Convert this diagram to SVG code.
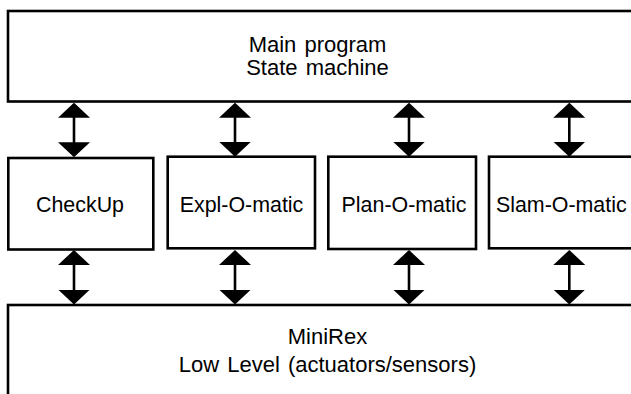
<svg xmlns="http://www.w3.org/2000/svg" width="631" height="394" viewBox="0 0 631 394">
  <style>
    .box { fill: #ffffff; stroke: #000000; stroke-width: 2.6; }
    .lbl { font-family: "Liberation Sans", Arial, Helvetica, sans-serif; fill: #000000; text-anchor: middle; }
    .big { font-size: 22px; word-spacing: 2px; }
    .node { font-size: 21.4px; }
    .conn { stroke: #000000; stroke-width: 2.6; fill: none; marker-start: url(#head); marker-end: url(#head); }
  </style>
  <defs>
    <marker id="head" markerUnits="userSpaceOnUse" viewBox="0 0 15 32" markerWidth="15" markerHeight="32" refX="13.5" refY="16" orient="auto-start-reverse">
      <path d="M0,0 L15,16 L0,32 z" fill="#000000"/>
    </marker>
  </defs>
  <rect width="631" height="394" fill="#ffffff"/>

  <g id="main">
    <rect class="box" x="8" y="11" width="640" height="90.5"/>
    <text class="lbl big" x="317.5" y="51.7">Main program</text>
    <text class="lbl big" x="317.5" y="75">State machine</text>
  </g>

  <g id="checkup">
    <rect class="box" x="8.3" y="158" width="145" height="91.5"/>
    <text class="lbl node" x="80" y="211.7">CheckUp</text>
  </g>
  <g id="expl">
    <rect class="box" x="167.7" y="156.7" width="147.3" height="91.6"/>
    <text class="lbl node" x="241.5" y="211.7">Expl-O-matic</text>
  </g>
  <g id="plan">
    <rect class="box" x="328.3" y="156.7" width="147.7" height="92.3"/>
    <text class="lbl node" x="404" y="211.7">Plan-O-matic</text>
  </g>
  <g id="slam">
    <rect class="box" x="489" y="156.7" width="150" height="91.6"/>
    <text class="lbl node" x="561.3" y="211.7">Slam-O-matic</text>
  </g>

  <g id="minirex">
    <rect class="box" x="8" y="305" width="640" height="100"/>
    <text class="lbl big" x="327.5" y="344.3">MiniRex</text>
    <text class="lbl big" x="327.5" y="371.5">Low Level (actuators/sensors)</text>
  </g>

  <g id="connectors">
    <line class="conn" x1="74" y1="104.2" x2="74" y2="155.7"/>
    <line class="conn" x1="235" y1="104.2" x2="235" y2="155.2"/>
    <line class="conn" x1="409" y1="104.2" x2="409" y2="155.2"/>
    <line class="conn" x1="569.3" y1="104.2" x2="569.3" y2="155.2"/>
    <line class="conn" x1="74" y1="251.5" x2="74" y2="303"/>
    <line class="conn" x1="235" y1="251.5" x2="235" y2="303"/>
    <line class="conn" x1="409" y1="251.5" x2="409" y2="303"/>
    <line class="conn" x1="569.3" y1="251.5" x2="569.3" y2="303"/>
  </g>
</svg>
